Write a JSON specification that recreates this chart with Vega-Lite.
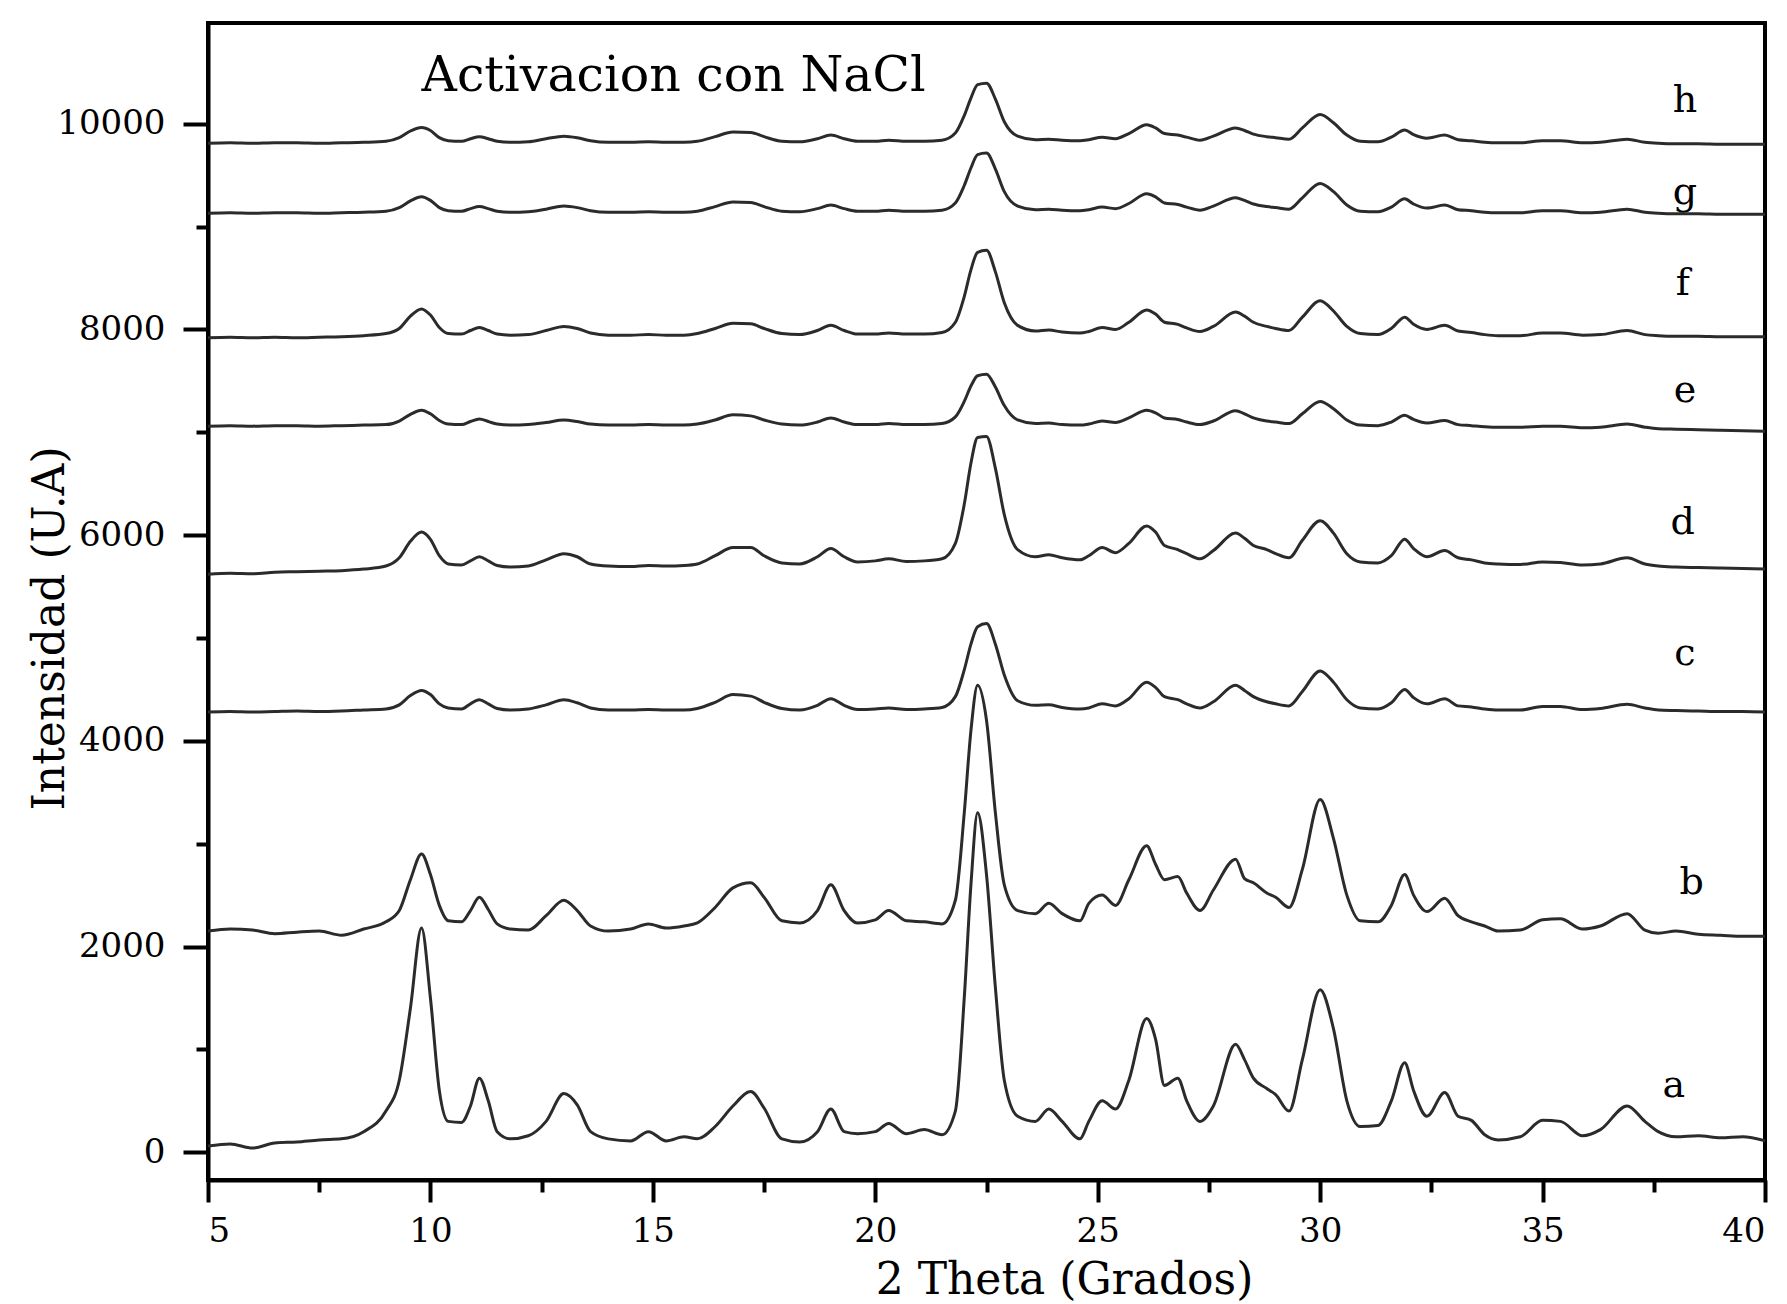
{
"$schema":"https://vega.github.io/schema/vega-lite/v6.json",
"width":1557,"height":1157,
"autosize":{"type":"none"},
"padding":{"left":208,"top":23,"right":22,"bottom":124},
"background":"white",
"config":{"view":{"stroke":"black","strokeWidth":4},"font":"DejaVu Serif"},
"datasets":{
"scan":[
{"x":5.0,"a":60,"b":2150,"c":4280,"d":5620,"e":7060,"f":7920,"g":9130,"h":9810},
{"x":5.5,"a":80,"b":2170,"c":4285,"d":5630,"e":7065,"f":7925,"g":9135,"h":9815},
{"x":6.0,"a":40,"b":2160,"c":4280,"d":5625,"e":7060,"f":7920,"g":9130,"h":9810},
{"x":6.5,"a":90,"b":2125,"c":4285,"d":5640,"e":7065,"f":7925,"g":9135,"h":9815},
{"x":7.0,"a":100,"b":2140,"c":4290,"d":5645,"e":7065,"f":7920,"g":9135,"h":9815},
{"x":7.5,"a":120,"b":2150,"c":4285,"d":5650,"e":7060,"f":7925,"g":9130,"h":9810},
{"x":8.0,"a":130,"b":2110,"c":4290,"d":5655,"e":7065,"f":7930,"g":9135,"h":9815},
{"x":8.5,"a":200,"b":2170,"c":4300,"d":5670,"e":7070,"f":7940,"g":9140,"h":9820},
{"x":9.0,"a":400,"b":2240,"c":4310,"d":5700,"e":7075,"f":7960,"g":9150,"h":9830},
{"x":9.3,"a":700,"b":2350,"c":4350,"d":5780,"e":7110,"f":8010,"g":9185,"h":9865},
{"x":9.55,"a":1400,"b":2650,"c":4440,"d":5940,"e":7175,"f":8130,"g":9250,"h":9930},
{"x":9.8,"a":2180,"b":2900,"c":4490,"d":6030,"e":7215,"f":8200,"g":9290,"h":9965},
{"x":10.0,"a":1500,"b":2700,"c":4450,"d":5960,"e":7180,"f":8140,"g":9255,"h":9935},
{"x":10.2,"a":600,"b":2400,"c":4360,"d":5800,"e":7115,"f":8020,"g":9185,"h":9865},
{"x":10.4,"a":300,"b":2250,"c":4320,"d":5720,"e":7080,"f":7960,"g":9155,"h":9835},
{"x":10.7,"a":290,"b":2240,"c":4310,"d":5710,"e":7075,"f":7955,"g":9150,"h":9830},
{"x":10.9,"a":450,"b":2350,"c":4360,"d":5750,"e":7105,"f":7990,"g":9175,"h":9855},
{"x":11.1,"a":720,"b":2480,"c":4400,"d":5790,"e":7130,"f":8020,"g":9195,"h":9875},
{"x":11.3,"a":500,"b":2360,"c":4360,"d":5750,"e":7105,"f":7990,"g":9175,"h":9855},
{"x":11.5,"a":200,"b":2220,"c":4315,"d":5705,"e":7080,"f":7955,"g":9150,"h":9830},
{"x":11.8,"a":130,"b":2170,"c":4300,"d":5690,"e":7070,"f":7945,"g":9140,"h":9820},
{"x":12.2,"a":160,"b":2160,"c":4310,"d":5700,"e":7075,"f":7950,"g":9145,"h":9825},
{"x":12.6,"a":300,"b":2300,"c":4350,"d":5760,"e":7095,"f":7990,"g":9170,"h":9855},
{"x":13.0,"a":570,"b":2450,"c":4400,"d":5820,"e":7120,"f":8030,"g":9200,"h":9880},
{"x":13.3,"a":460,"b":2350,"c":4370,"d":5790,"e":7105,"f":8010,"g":9185,"h":9865},
{"x":13.6,"a":200,"b":2200,"c":4320,"d":5720,"e":7080,"f":7965,"g":9155,"h":9835},
{"x":14.0,"a":130,"b":2150,"c":4300,"d":5700,"e":7070,"f":7945,"g":9140,"h":9820},
{"x":14.5,"a":110,"b":2170,"c":4300,"d":5695,"e":7070,"f":7945,"g":9140,"h":9820},
{"x":14.9,"a":200,"b":2220,"c":4305,"d":5705,"e":7075,"f":7950,"g":9145,"h":9825},
{"x":15.3,"a":110,"b":2180,"c":4300,"d":5700,"e":7070,"f":7945,"g":9140,"h":9820},
{"x":15.7,"a":150,"b":2200,"c":4300,"d":5705,"e":7070,"f":7945,"g":9140,"h":9820},
{"x":16.0,"a":130,"b":2230,"c":4315,"d":5720,"e":7080,"f":7960,"g":9150,"h":9830},
{"x":16.4,"a":250,"b":2380,"c":4375,"d":5800,"e":7120,"f":8010,"g":9195,"h":9875},
{"x":16.8,"a":450,"b":2570,"c":4450,"d":5880,"e":7170,"f":8060,"g":9240,"h":9920},
{"x":17.2,"a":590,"b":2620,"c":4435,"d":5880,"e":7160,"f":8055,"g":9235,"h":9915},
{"x":17.5,"a":430,"b":2480,"c":4375,"d":5800,"e":7120,"f":8010,"g":9195,"h":9875},
{"x":17.9,"a":130,"b":2250,"c":4315,"d":5730,"e":7080,"f":7960,"g":9150,"h":9830},
{"x":18.3,"a":100,"b":2230,"c":4300,"d":5720,"e":7070,"f":7950,"g":9145,"h":9825},
{"x":18.7,"a":200,"b":2350,"c":4345,"d":5790,"e":7100,"f":7990,"g":9175,"h":9855},
{"x":19.0,"a":420,"b":2600,"c":4410,"d":5870,"e":7140,"f":8040,"g":9210,"h":9890},
{"x":19.3,"a":200,"b":2350,"c":4345,"d":5790,"e":7100,"f":7990,"g":9175,"h":9855},
{"x":19.6,"a":180,"b":2230,"c":4305,"d":5740,"e":7075,"f":7955,"g":9150,"h":9830},
{"x":20.0,"a":200,"b":2260,"c":4310,"d":5750,"e":7075,"f":7955,"g":9150,"h":9830},
{"x":20.3,"a":280,"b":2350,"c":4320,"d":5770,"e":7085,"f":7965,"g":9160,"h":9840},
{"x":20.7,"a":180,"b":2250,"c":4305,"d":5745,"e":7075,"f":7955,"g":9150,"h":9830},
{"x":21.1,"a":220,"b":2240,"c":4310,"d":5750,"e":7075,"f":7955,"g":9150,"h":9830},
{"x":21.5,"a":170,"b":2220,"c":4325,"d":5770,"e":7085,"f":7970,"g":9160,"h":9840},
{"x":21.8,"a":400,"b":2450,"c":4430,"d":5920,"e":7150,"f":8070,"g":9230,"h":9910},
{"x":22.0,"a":1500,"b":3300,"c":4690,"d":6300,"e":7300,"f":8320,"g":9400,"h":10080},
{"x":22.15,"a":2600,"b":4100,"c":4940,"d":6700,"e":7450,"f":8580,"g":9570,"h":10250},
{"x":22.3,"a":3300,"b":4540,"c":5110,"d":6950,"e":7550,"f":8750,"g":9700,"h":10380},
{"x":22.5,"a":2700,"b":4200,"c":5140,"d":6960,"e":7565,"f":8770,"g":9715,"h":10395},
{"x":22.7,"a":1600,"b":3300,"c":4940,"d":6650,"e":7440,"f":8560,"g":9560,"h":10240},
{"x":22.9,"a":700,"b":2600,"c":4640,"d":6200,"e":7260,"f":8260,"g":9340,"h":10020},
{"x":23.2,"a":350,"b":2350,"c":4390,"d":5860,"e":7120,"f":8040,"g":9200,"h":9880},
{"x":23.6,"a":300,"b":2320,"c":4345,"d":5790,"e":7085,"f":7985,"g":9165,"h":9845},
{"x":23.9,"a":420,"b":2420,"c":4350,"d":5810,"e":7090,"f":7995,"g":9170,"h":9850},
{"x":24.2,"a":300,"b":2320,"c":4325,"d":5780,"e":7075,"f":7975,"g":9160,"h":9840},
{"x":24.6,"a":130,"b":2250,"c":4310,"d":5760,"e":7070,"f":7965,"g":9155,"h":9835},
{"x":24.8,"a":300,"b":2420,"c":4320,"d":5800,"e":7080,"f":7980,"g":9165,"h":9845},
{"x":25.1,"a":500,"b":2500,"c":4360,"d":5880,"e":7110,"f":8020,"g":9190,"h":9870},
{"x":25.4,"a":420,"b":2400,"c":4340,"d":5830,"e":7095,"f":8000,"g":9175,"h":9855},
{"x":25.7,"a":700,"b":2650,"c":4410,"d":5920,"e":7140,"f":8070,"g":9225,"h":9905},
{"x":26.1,"a":1300,"b":2980,"c":4570,"d":6090,"e":7215,"f":8190,"g":9320,"h":9990},
{"x":26.3,"a":1100,"b":2800,"c":4520,"d":6030,"e":7190,"f":8150,"g":9290,"h":9960},
{"x":26.5,"a":650,"b":2650,"c":4430,"d":5900,"e":7140,"f":8070,"g":9230,"h":9905},
{"x":26.8,"a":720,"b":2680,"c":4400,"d":5860,"e":7125,"f":8050,"g":9215,"h":9890},
{"x":27.0,"a":500,"b":2520,"c":4360,"d":5820,"e":7100,"f":8015,"g":9190,"h":9870},
{"x":27.3,"a":300,"b":2350,"c":4320,"d":5770,"e":7075,"f":7980,"g":9160,"h":9840},
{"x":27.6,"a":450,"b":2550,"c":4380,"d":5850,"e":7110,"f":8030,"g":9200,"h":9880},
{"x":28.1,"a":1050,"b":2850,"c":4540,"d":6020,"e":7210,"f":8170,"g":9280,"h":9960},
{"x":28.3,"a":900,"b":2660,"c":4490,"d":5970,"e":7180,"f":8130,"g":9255,"h":9935},
{"x":28.5,"a":720,"b":2620,"c":4430,"d":5900,"e":7140,"f":8070,"g":9220,"h":9900},
{"x":28.8,"a":620,"b":2520,"c":4380,"d":5860,"e":7110,"f":8030,"g":9195,"h":9875},
{"x":29.0,"a":560,"b":2480,"c":4360,"d":5820,"e":7100,"f":8010,"g":9185,"h":9865},
{"x":29.3,"a":400,"b":2380,"c":4340,"d":5780,"e":7085,"f":7990,"g":9170,"h":9850},
{"x":29.6,"a":900,"b":2750,"c":4480,"d":5950,"e":7180,"f":8120,"g":9280,"h":9960},
{"x":30.0,"a":1580,"b":3430,"c":4680,"d":6140,"e":7300,"f":8280,"g":9420,"h":10090},
{"x":30.3,"a":1200,"b":3050,"c":4570,"d":6020,"e":7230,"f":8180,"g":9340,"h":10010},
{"x":30.6,"a":500,"b":2500,"c":4400,"d":5820,"e":7120,"f":8030,"g":9210,"h":9890},
{"x":30.9,"a":250,"b":2250,"c":4320,"d":5740,"e":7070,"f":7960,"g":9150,"h":9830},
{"x":31.3,"a":260,"b":2240,"c":4310,"d":5730,"e":7065,"f":7950,"g":9145,"h":9825},
{"x":31.6,"a":500,"b":2400,"c":4370,"d":5800,"e":7100,"f":8010,"g":9190,"h":9870},
{"x":31.9,"a":870,"b":2700,"c":4500,"d":5960,"e":7165,"f":8120,"g":9270,"h":9940},
{"x":32.1,"a":600,"b":2500,"c":4420,"d":5870,"e":7125,"f":8050,"g":9220,"h":9895},
{"x":32.4,"a":350,"b":2340,"c":4360,"d":5790,"e":7090,"f":8000,"g":9180,"h":9860},
{"x":32.8,"a":580,"b":2470,"c":4410,"d":5850,"e":7115,"f":8040,"g":9210,"h":9890},
{"x":33.1,"a":350,"b":2300,"c":4340,"d":5780,"e":7075,"f":7985,"g":9165,"h":9845},
{"x":33.4,"a":310,"b":2240,"c":4330,"d":5760,"e":7065,"f":7970,"g":9155,"h":9835},
{"x":33.7,"a":170,"b":2200,"c":4310,"d":5730,"e":7055,"f":7950,"g":9140,"h":9820},
{"x":34.0,"a":120,"b":2150,"c":4300,"d":5720,"e":7050,"f":7940,"g":9135,"h":9815},
{"x":34.5,"a":150,"b":2160,"c":4300,"d":5715,"e":7050,"f":7940,"g":9135,"h":9815},
{"x":35.0,"a":310,"b":2260,"c":4335,"d":5740,"e":7060,"f":7965,"g":9155,"h":9835},
{"x":35.4,"a":300,"b":2270,"c":4335,"d":5735,"e":7060,"f":7965,"g":9155,"h":9835},
{"x":35.9,"a":160,"b":2170,"c":4305,"d":5710,"e":7045,"f":7945,"g":9135,"h":9815},
{"x":36.3,"a":220,"b":2200,"c":4315,"d":5720,"e":7050,"f":7950,"g":9140,"h":9820},
{"x":36.9,"a":450,"b":2320,"c":4355,"d":5780,"e":7080,"f":7990,"g":9170,"h":9850},
{"x":37.3,"a":300,"b":2160,"c":4320,"d":5720,"e":7050,"f":7950,"g":9140,"h":9820},
{"x":37.6,"a":200,"b":2130,"c":4300,"d":5700,"e":7035,"f":7940,"g":9130,"h":9810},
{"x":38.0,"a":150,"b":2150,"c":4295,"d":5690,"e":7030,"f":7935,"g":9125,"h":9805},
{"x":38.5,"a":160,"b":2120,"c":4290,"d":5685,"e":7025,"f":7935,"g":9125,"h":9805},
{"x":39.0,"a":140,"b":2110,"c":4285,"d":5680,"e":7020,"f":7930,"g":9120,"h":9800},
{"x":39.5,"a":150,"b":2100,"c":4285,"d":5675,"e":7015,"f":7930,"g":9120,"h":9800},
{"x":40.0,"a":110,"b":2100,"c":4280,"d":5670,"e":7010,"f":7930,"g":9120,"h":9800}
],
"etiquetas":[
{"etiqueta":"a","x":37.95,"y":640},
{"etiqueta":"b","x":38.35,"y":2620},
{"etiqueta":"c","x":38.2,"y":4840},
{"etiqueta":"d","x":38.15,"y":6120},
{"etiqueta":"e","x":38.2,"y":7400},
{"etiqueta":"f","x":38.15,"y":8440},
{"etiqueta":"g","x":38.2,"y":9330},
{"etiqueta":"h","x":38.2,"y":10220}
],
"titulo":[{"texto":"Activacion con NaCl","x":9.8,"y":10321}]
},
"layer":[
{
"data":{"name":"scan"},
"transform":[{"fold":["a","b","c","d","e","f","g","h"],"as":["serie","intensidad"]}],
"mark":{"type":"line","color":"#2b2b2b","strokeWidth":3,"interpolate":"monotone","clip":true},
"encoding":{
"x":{"field":"x","type":"quantitative","scale":{"domain":[5,40],"nice":false,"zero":false},
"axis":{"values":[5,10,15,20,25,30,35,40],"format":"d","tickSize":22,"tickWidth":4,"tickColor":"black","domainColor":"black","domainWidth":4,"labelPadding":12,"labelFontSize":34,"labelFont":"DejaVu Serif","labelColor":"black","grid":false,"title":"2 Theta (Grados)","titleFont":"DejaVu Serif","titleFontSize":44,"titleFontWeight":"normal","titleColor":"black","titleX":856,"titleY":113,"titleBaseline":"alphabetic","titleAlign":"center"}},
"y":{"field":"intensidad","type":"quantitative","scale":{"domain":[-270,10980],"nice":false,"zero":false},
"axis":{"values":[0,2000,4000,6000,8000,10000],"format":"d","tickSize":25,"tickWidth":4,"tickColor":"black","domainColor":"black","domainWidth":4,"labelPadding":18,"labelFontSize":34,"labelFont":"DejaVu Serif","labelColor":"black","grid":false,"title":"Intensidad (U.A)","titleFont":"DejaVu Serif","titleFontSize":44,"titleFontWeight":"normal","titleColor":"black","titleAngle":270,"titleX":-145,"titleY":605,"titleBaseline":"alphabetic","titleAlign":"center"}},
"detail":{"field":"serie","type":"nominal"}
}
},
{
"data":{"name":"etiquetas"},
"mark":{"type":"text","font":"DejaVu Serif","fontSize":38,"color":"black","align":"center","baseline":"middle"},
"encoding":{
"x":{"field":"x","type":"quantitative","axis":{"values":[7.5,12.5,17.5,22.5,27.5,32.5,37.5],"tickSize":12,"tickWidth":4,"tickColor":"black","labels":false,"domain":false,"grid":false,"title":null,"orient":"bottom"}},
"y":{"field":"y","type":"quantitative","axis":{"values":[1000,3000,5000,7000,9000],"tickSize":12,"tickWidth":4,"tickColor":"black","labels":false,"domain":false,"grid":false,"title":null,"orient":"left"}},
"text":{"field":"etiqueta","type":"nominal"}
}
},
{
"data":{"name":"titulo"},
"mark":{"type":"text","font":"DejaVu Serif","fontSize":49,"color":"black","align":"left","baseline":"alphabetic"},
"encoding":{
"x":{"field":"x","type":"quantitative","axis":null},
"y":{"field":"y","type":"quantitative","axis":null},
"text":{"field":"texto","type":"nominal"}
}
}
],
"resolve":{"axis":{"x":"independent","y":"independent"}}
}
